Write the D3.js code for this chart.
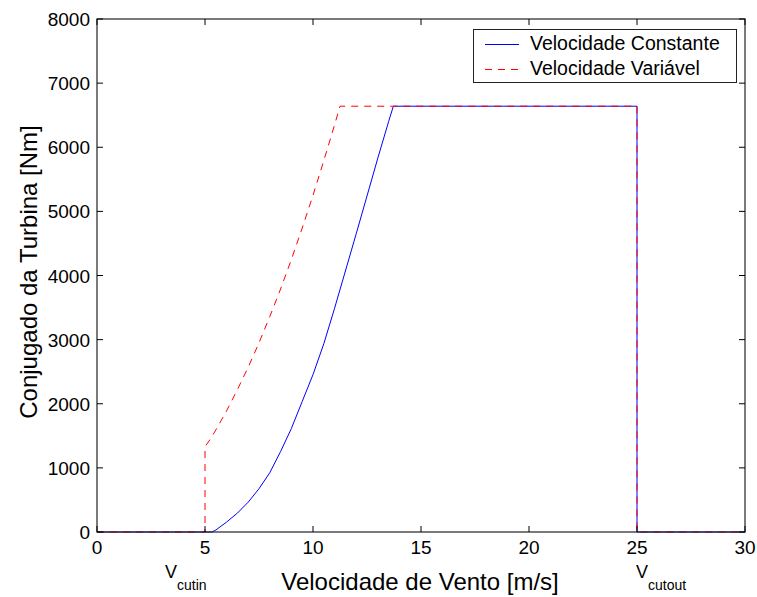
<!DOCTYPE html>
<html><head><meta charset="utf-8">
<script src="https://cdn.jsdelivr.net/npm/d3@7"></script>
<style>body{margin:0;background:#fff}svg{display:block}text{font-family:"Liberation Sans",Arial,sans-serif}</style>
</head><body>
<svg id="c" width="757" height="597"></svg>
<script>
const xTicks=[0,5,10,15,20,25,30];
const yTicks=[0,1000,2000,3000,4000,5000,6000,7000,8000];
const constX=[0,5.32,5.5,6,6.5,7,7.5,8,8.5,9,9.5,10,10.5,11,11.5,12,12.5,13,13.5,13.72,25,25,30];
const constY=[0,0,30,155,295,465,675,925,1255,1615,2035,2455,2935,3490,4070,4650,5240,5830,6400,6640,6640,0,0];
const varX=[0,5,5,5.25,5.5,6,6.5,7,7.5,8,8.5,9,9.5,10,10.5,11,11.25,25,25,30];
const varY=[0,0,1330,1450,1590,1890,2220,2570,2950,3360,3790,4250,4740,5250,5790,6350,6640,6640,0,0];
const seriesNames=["Velocidade Constante","Velocidade Variável"];

const svg=d3.select("#c");
const L=97,R=745,T=19,B=532;
const x=d3.scaleLinear().domain([0,30]).range([L,R]);
const y=d3.scaleLinear().domain([0,8000]).range([B,T]);
const line=d3.line().x(d=>x(d[0])).y(d=>y(d[1]));

const cData=constX.map((v,i)=>[v,constY[i]]);
const vData=varX.map((v,i)=>[v,varY[i]]);
svg.append("path").datum(cData).attr("d",line).attr("fill","none").attr("stroke","#0000ff").attr("stroke-width",1);
svg.append("path").datum(vData).attr("d",line).attr("fill","none").attr("stroke","#ff0000").attr("stroke-width",1).attr("stroke-dasharray","7,6");

// frame
svg.append("rect").attr("x",L).attr("y",T).attr("width",R-L).attr("height",B-T).attr("fill","none").attr("stroke","#222").attr("stroke-width",1.2);

const fs="19px";
const gx=svg.append("g");
xTicks.forEach(t=>{
  gx.append("line").attr("x1",x(t)).attr("x2",x(t)).attr("y1",B).attr("y2",B-6).attr("stroke","#000");
  gx.append("line").attr("x1",x(t)).attr("x2",x(t)).attr("y1",T).attr("y2",T+6).attr("stroke","#000");
  gx.append("text").attr("x",x(t)).attr("y",B+22).attr("text-anchor","middle").attr("font-size",fs).text(t);
});
const gy=svg.append("g");
yTicks.forEach(t=>{
  gy.append("line").attr("x1",L).attr("x2",L+6).attr("y1",y(t)).attr("y2",y(t)).attr("stroke","#000");
  gy.append("line").attr("x1",R).attr("x2",R-6).attr("y1",y(t)).attr("y2",y(t)).attr("stroke","#000");
  gy.append("text").attr("x",L-7).attr("y",y(t)+7).attr("text-anchor","end").attr("font-size",fs).text(t);
});

svg.append("text").attr("x",420).attr("y",590).attr("text-anchor","middle").attr("font-size","24px").text("Velocidade de Vento [m/s]");
svg.append("text").attr("transform","translate(37,272) rotate(-90)").attr("text-anchor","middle").attr("font-size","24px").text("Conjugado da Turbina [Nm]");

function vlab(cx,sub){
  const t=svg.append("text").attr("x",cx).attr("y",578).attr("font-size","18px");
  t.append("tspan").text("V");
  t.append("tspan").attr("dy",12).attr("font-size","14px").text(sub);
}
vlab(165,"cutin");
vlab(636,"cutout");

const lg=svg.append("g");
lg.append("rect").attr("x",473.5).attr("y",29.5).attr("width",263).attr("height",53).attr("fill","#fff").attr("stroke","#222");
lg.append("line").attr("x1",485).attr("x2",519).attr("y1",44.5).attr("y2",44.5).attr("stroke","#0000ff");
lg.append("line").attr("x1",485).attr("x2",519).attr("y1",69.5).attr("y2",69.5).attr("stroke","#ff0000").attr("stroke-dasharray","7,6");
lg.append("text").attr("x",530).attr("y",50).attr("font-size","19.5px").text(seriesNames[0]);
lg.append("text").attr("x",530).attr("y",75).attr("font-size","19.5px").text(seriesNames[1]);
</script>
</body></html>
